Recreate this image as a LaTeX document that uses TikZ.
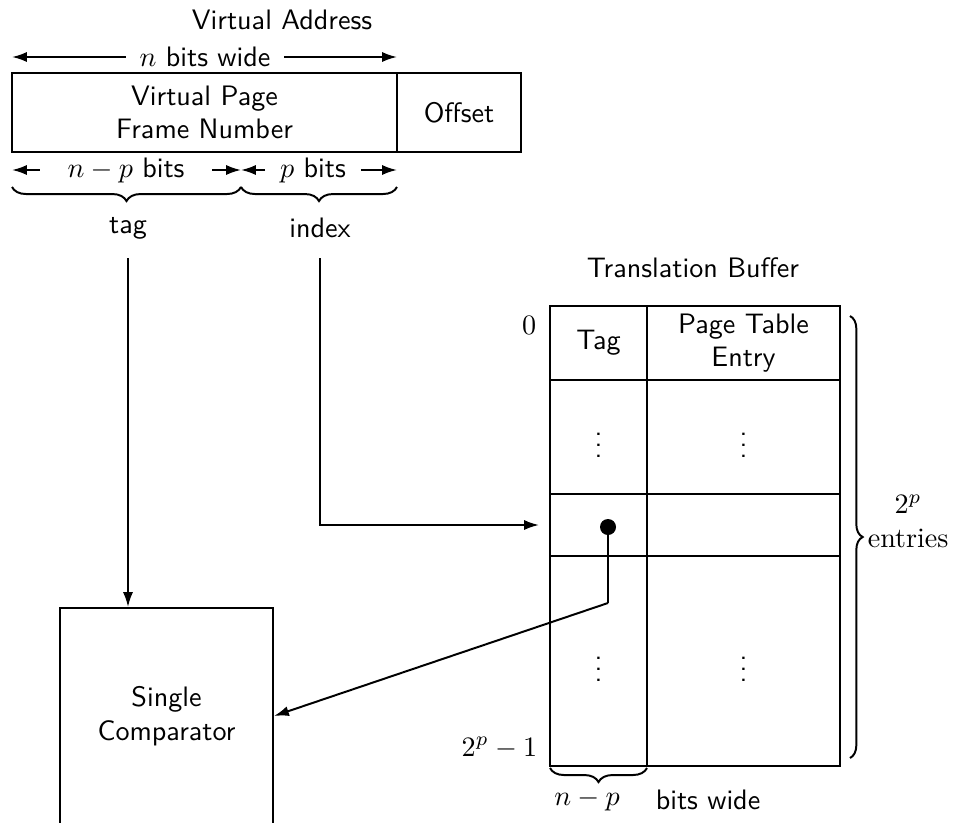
\documentclass[tikz,border=0pt]{standalone}
\usetikzlibrary{arrows.meta,calc,decorations.pathreplacing}

\begin{document}
\begin{tikzpicture}[x=0.0125cm,y=-0.0125cm,>={Latex[length=5.3pt,width=3.6pt]},line width=0.7pt,font=\sffamily]
  \tikzstyle{cell}=[draw,inner sep=0pt,align=center]
  \tikzstyle{lbl}=[inner sep=1pt,align=center]
  \tikzstyle{brc}=[decorate,decoration={brace,amplitude=5pt}]
  \useasboundingbox (0,0) rectangle (957,822);
  \clip (0,0) rectangle (957,822);
  % virtual address
  \node[lbl] (vatitle) at (282,20) {Virtual Address};
  \node[lbl,inner xsep=4.5pt] (nbits) at (205,57) {$n$ bits wide};
  \coordinate (vaL) at (12,57);
  \coordinate (vaR) at (397,57);
  \draw[->] (nbits.west) -- (vaL);
  \draw[->] (nbits.east) -- (vaR);
  \node[cell,minimum width=4.8125cm,minimum height=0.9875cm] (vpfn) at (204.5,112.5) {Virtual Page\\Frame Number};
  \node[cell,minimum width=1.55cm,minimum height=0.9875cm] (offset) at (459,112.5) {Offset};
  \node[lbl,inner xsep=9.5pt] (npbits) at (126,170) {$n-p$ bits};
  \node[lbl,inner xsep=5pt] (pbits) at (313,170) {$p$ bits};
  \coordinate (split) at (241,170);
  \draw[->] (npbits.west) -- (vaL |- npbits);
  \draw[->] (npbits.east) -- (split);
  \draw[->] (pbits.west) -- (split);
  \draw[->] (pbits.east) -- (vaR |- pbits);
  \draw[brc] (241,187) -- (12,187);
  \draw[brc] (397,187) -- (241,187);
  \node[lbl] (tag) at (128,228) {tag};
  \node[lbl] (index) at (320,228) {index};
  % translation buffer
  \node[lbl] (tbtitle) at (693,268) {Translation Buffer};
  \node[cell,minimum width=1.2125cm,minimum height=0.925cm] (t0) at (598.5,343) {Tag};
  \node[cell,minimum width=2.4125cm,minimum height=0.925cm] (e0) at (743.5,343) {Page Table\\Entry};
  \node[cell,minimum width=1.2125cm,minimum height=1.425cm] (t1) at (598.5,437) {$\vdots$};
  \node[cell,minimum width=2.4125cm,minimum height=1.425cm] (e1) at (743.5,437) {$\vdots$};
  \node[cell,minimum width=1.2125cm,minimum height=0.775cm] (t2) at (598.5,525) {};
  \node[cell,minimum width=2.4125cm,minimum height=0.775cm] (e2) at (743.5,525) {};
  \node[cell,minimum width=1.2125cm,minimum height=2.625cm] (t3) at (598.5,661) {$\vdots$};
  \node[cell,minimum width=2.4125cm,minimum height=2.625cm] (e3) at (743.5,661) {$\vdots$};
  \node[lbl,anchor=east] (first) at (540,325) {$0$};
  \node[lbl,anchor=east] (last) at (541,748) {$2^p-1$};
  \draw[brc,decoration={amplitude=4.5pt}] (850,316) -- (850,758);
  \node[lbl,anchor=west,font=\rmfamily] (count) at (864,521) {$2^p$\\entries};
  \draw[brc] (647,768) -- (550,768);
  \node[lbl] (width) at (587,800) {$n-p$};
  \node[lbl] (bitswide) at (708,800) {bits wide};
  % comparator
  \node[cell,minimum width=2.6625cm,minimum height=2.7cm] (cmp) at (166.5,716) {Single\\Comparator};
  \node[circle,fill,inner sep=0pt,minimum size=0.2cm] (dot) at (608,527) {};
  \coordinate (tagtop) at (128,258);
  \coordinate (idxtop) at (320,258);
  \coordinate (bend) at (608,603);
  \draw[->] (tagtop) -- (tagtop |- cmp.north);
  \draw[->,shorten >=0.125cm] (idxtop) |- (t2.west);
  \draw (dot.center) -- (bend);
  \draw[->] (bend) -- (cmp.east);
\end{tikzpicture}
\end{document}
